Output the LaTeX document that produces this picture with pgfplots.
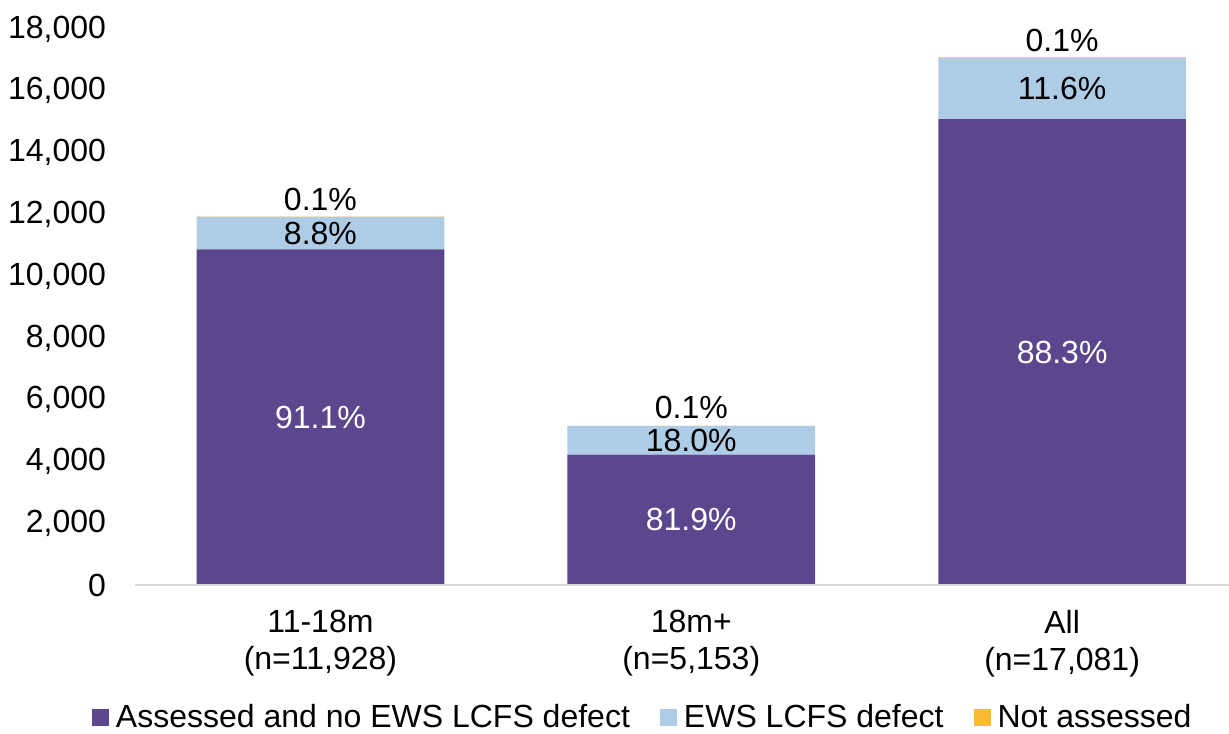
\documentclass[border=0pt]{standalone}
\usepackage{pgfplots}
\pgfplotsset{compat=1.18}
\usepackage{fontspec}
\setmainfont{Liberation Sans}

\definecolor{assessed}{RGB}{92,70,142}
\definecolor{ewsdefect}{RGB}{174,204,230}
\definecolor{notassessed}{RGB}{251,186,54}

\newcommand{\lblfont}{\fontsize{16}{18.4}\selectfont}

\begin{document}
\begin{tikzpicture}
  \begin{axis}[
      ybar stacked,
      scale only axis,
      width=547pt, height=278pt,
      bar width=0.668,
      xmin=-0.5, xmax=2.45,
      ymin=0, ymax=18000,
      xtick={0,1,2},
      xticklabels={{11-18m\\(n=11,928)}, {18m+\\(n=5,153)}, {All\\(n=17,081)}},
      xticklabel style={align=center, font=\lblfont, yshift=-9pt},
      ytick={0,2000,...,18000},
      yticklabel style={font=\lblfont, xshift=-11pt},
      scaled y ticks=false,
      /pgf/number format/.cd, 1000 sep={,}, assume math mode=true,
      /pgfplots/.cd,
      axis line style={draw=none},
      tick style={draw=none},
      clip=false,
      legend columns=3,
      legend style={draw=none, font=\lblfont, at={(0.465,-0.239)}, anchor=center,
        /tikz/every even column/.append style={column sep=13pt}},
      legend image code/.code={\fill[#1,draw=none] (0pt,-4.25pt) rectangle (8.5pt,4.25pt);
        \path (10pt,0pt);},
    ]
    \draw[gray!30, line width=0.8pt] (rel axis cs:0,0) -- (rel axis cs:1,0);

    \addplot[fill=assessed, draw=none] coordinates {(0,10866) (1,4220) (2,15083)};
    \addplot[fill=ewsdefect, draw=none] coordinates {(0,1050) (1,928) (2,1981)};
    \addplot[fill=notassessed, draw=none] coordinates {(0,12) (1,5) (2,17)};
    \legend{Assessed and no EWS LCFS defect, EWS LCFS defect, Not assessed}

    \coordinate (a1) at (axis cs:0,5433);
    \coordinate (a2) at (axis cs:0,11391);
    \coordinate (a3) at (axis cs:0,12496);
    \coordinate (b1) at (axis cs:1,2110);
    \coordinate (b2) at (axis cs:1,4684);
    \coordinate (b3) at (axis cs:1,5763);
    \coordinate (c1) at (axis cs:2,7541);
    \coordinate (c2) at (axis cs:2,16073);
    \coordinate (c3) at (axis cs:2,17644);
  \end{axis}
  \node[font=\lblfont, text=white] at (a1) {91.1\%};
  \node[font=\lblfont] at (a2) {8.8\%};
  \node[font=\lblfont] at (a3) {0.1\%};
  \node[font=\lblfont, text=white] at (b1) {81.9\%};
  \node[font=\lblfont] at (b2) {18.0\%};
  \node[font=\lblfont] at (b3) {0.1\%};
  \node[font=\lblfont, text=white] at (c1) {88.3\%};
  \node[font=\lblfont] at (c2) {11.6\%};
  \node[font=\lblfont] at (c3) {0.1\%};
  \pgfresetboundingbox
  \path[use as bounding box] (-67.5pt,-74pt) rectangle (547pt,292.5pt);
\end{tikzpicture}
\end{document}
